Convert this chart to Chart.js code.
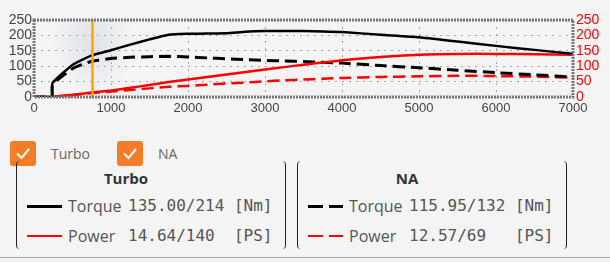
<!DOCTYPE html>
<html>
<head>
<meta charset="utf-8">
<script src="https://cdn.jsdelivr.net/npm/chart.js@4"></script>
<style>
  html, body { margin: 0; padding: 0; background: #f4f4f4; width: 610px; height: 262px; overflow: hidden; }
  #wrap { position: relative; width: 610px; height: 262px; }
  #chart { position: absolute; left: 0; top: 0; }
  .chk { position: absolute; top: 141px; width: 26px; height: 25px; border-radius: 3px; background: #f47c26; }
  .chk svg { position: absolute; left: 0; top: 0; }
  .chkLabel { position: absolute; top: 144px; font: 14px "Open Sans", sans-serif; color: #666; }
  .bracket { position: absolute; top: 161px; height: 88px; width: 6px; border: 0 solid #222; }
  .bl { border-left-width: 1.6px; border-radius: 4px 0 0 4px; }
  .br { border-right-width: 1.6px; border-radius: 0 4px 4px 0; }
  .head { position: absolute; top: 168px; width: 100px; text-align: center; font: bold 15px "Open Sans", sans-serif; color: #333; }
  .row { position: absolute; height: 20px; white-space: pre; color: #555; }
  .row .name { position: absolute; left: 0; top: 0; font: 16px "Open Sans", sans-serif; }
  .row .val { position: absolute; left: 60px; top: 1px; font: 16px "DejaVu Sans Mono", monospace; }
  .swatch { position: absolute; width: 35px; }
  #bottomLine { position: absolute; left: 0; top: 257px; width: 610px; height: 1px; background: #a5a5a5; }
</style>
</head>
<body>
<div id="wrap">
  <canvas id="chart" width="610" height="120"></canvas>
  <div id="legend"></div>
  <div id="bottomLine"></div>
</div>
<script>
// engine speed (rpm) shared by all curves
const rpm = [0, 230, 240, 500, 750, 1000, 1250, 1500, 1750, 2000, 2250, 2500, 2750,
             3000, 3250, 3500, 3750, 4000, 4500, 5000, 5500, 6000, 6500, 7000];

// Turbo
const turboTorque = [0, 0, 45, 104, 135, 152, 170, 187, 202, 205, 206, 207, 212,
                     214, 214, 214, 213, 211, 202, 194, 180, 166, 153, 140];
const turboPower  = [0, 0, 1, 7, 14.6, 21, 30, 39, 49, 57, 65, 73, 81,
                     89, 97, 105, 112, 119, 130, 137, 140, 140, 139, 137];

// NA
const naTorque = [0, 0, 40, 92, 116, 125, 129, 131, 132, 130, 127, 124, 121,
                  119, 117, 115, 113, 110, 102, 95, 87, 79, 72, 65];
const naPower  = [0, 0, 1, 6, 12.6, 18, 23, 28, 33, 36, 40, 44, 47,
                  51, 54, 57, 59, 62, 65, 67, 69, 68, 66, 63];

const yTicks = [0, 50, 100, 150, 200, 250];
const xTicks = [0, 1000, 2000, 3000, 4000, 5000, 6000, 7000];

// cursor position and read-outs
const cursorRpm = 760;
const groups = ['Turbo', 'NA'];
const torqueText = ['135.00/214 [Nm]', '115.95/132 [Nm]'];
const powerText  = ['14.64/140  [PS]', '12.57/69   [PS]'];

const BLACK = '#000000';
const RED = '#ff0000';

function pts(ys) {
  return rpm.map((x, i) => ({ x, y: ys[i] }));
}

function line(label, ys, color, width, dash, axis, order) {
  return {
    label,
    data: pts(ys),
    borderColor: color,
    backgroundColor: 'transparent',
    borderWidth: width,
    borderDash: dash,
    pointRadius: 0,
    tension: 0.15,
    yAxisID: axis,
    order,
  };
}

// glow + orange cursor + plot frame
const decor = {
  id: 'decor',
  beforeDatasetsDraw(chart) {
    const { ctx, chartArea: a, scales } = chart;
    const cx = scales.x.getPixelForValue(cursorRpm);
    ctx.save();
    ctx.beginPath();
    ctx.rect(a.left, a.top, a.right - a.left, a.bottom - a.top);
    ctx.clip();
    ctx.translate(cx, a.top + 22);
    ctx.scale(1, 1.3);
    const g = ctx.createRadialGradient(0, 0, 0, 0, 0, 40);
    g.addColorStop(0, 'rgba(175,192,208,0.32)');
    g.addColorStop(1, 'rgba(175,192,208,0)');
    ctx.fillStyle = g;
    ctx.fillRect(-60, -40, 120, 80);
    ctx.restore();
  },
  afterDatasetsDraw(chart) {
    const { ctx, chartArea: a, scales } = chart;
    const cx = scales.x.getPixelForValue(cursorRpm);
    ctx.save();
    ctx.strokeStyle = '#ffa500';
    ctx.lineWidth = 2.5;
    ctx.beginPath();
    ctx.moveTo(cx, a.top);
    ctx.lineTo(cx, a.bottom);
    ctx.stroke();
    ctx.strokeStyle = '#777';
    ctx.lineWidth = 3;
    ctx.setLineDash([2, 1]);
    ctx.strokeRect(a.left, a.top, a.right - a.left, a.bottom - a.top);
    ctx.restore();
  },
};

const tickCommon = { autoSkip: false, callback: (v) => String(v) };

new Chart(document.getElementById('chart'), {
  type: 'line',
  data: {
    datasets: [
      line('Turbo Torque', turboTorque, BLACK, 2.5, [], 'y', 1),
      line('NA Torque', naTorque, BLACK, 3, [12, 6], 'y', 3),
      line('Turbo Power', turboPower, RED, 2.5, [], 'y1', 2),
      line('NA Power', naPower, RED, 2.5, [12, 6], 'y1', 4),
    ],
  },
  options: {
    responsive: false,
    animation: false,
    layout: { padding: { top: 20, left: 0, right: 0, bottom: 0 } },
    plugins: { legend: { display: false }, tooltip: { enabled: false } },
    scales: {
      x: {
        type: 'linear', min: 0, max: 7000,
        afterBuildTicks: (s) => { s.ticks = xTicks.map((v) => ({ value: v })); },
        afterFit: (s) => { s.height = 23; },
        grid: { color: '#a6a6a6', drawTicks: false },
        border: { display: false, dash: [2, 5] },
        ticks: { ...tickCommon, color: '#444', font: { family: 'Liberation Sans', size: 13 }, padding: 4, maxRotation: 0 },
      },
      y: {
        position: 'left', min: 0, max: 250,
        afterBuildTicks: (s) => { s.ticks = yTicks.map((v) => ({ value: v })); },
        afterFit: (s) => { s.width = 34; },
        grid: { color: '#a6a6a6', drawTicks: false },
        border: { display: false, dash: [2, 5] },
        ticks: { ...tickCommon, color: '#444', font: { family: 'Liberation Sans', size: 14 }, padding: 2 },
      },
      y1: {
        position: 'right', min: 0, max: 250,
        afterBuildTicks: (s) => { s.ticks = yTicks.map((v) => ({ value: v })); },
        afterFit: (s) => { s.width = 37; },
        grid: { display: false, drawTicks: false },
        border: { display: false },
        ticks: { ...tickCommon, color: RED, font: { family: 'Liberation Sans', size: 14 }, padding: 3 },
      },
    },
  },
  plugins: [decor],
});

// legend below the chart
const legend = document.getElementById('legend');
const check = '<svg width="26" height="25"><polyline points="7,12.5 11.5,17 19,8" fill="none" stroke="#fff" stroke-width="2"/></svg>';
const chkX = [10, 117];
const lblX = [51, 158];
const boxL = [16, 297];
const boxR = [279, 560];

function swatch(x, y, color, h, dashed) {
  if (!dashed) {
    return `<div class="swatch" style="left:${x}px;top:${y - h / 2}px;height:${h}px;background:${color}"></div>`;
  }
  return `<div class="swatch" style="left:${x}px;top:${y - h / 2}px;height:${h}px;background:linear-gradient(90deg,${color} 0 15px,transparent 15px 21px,${color} 21px 35px)"></div>`;
}

let html = '';
groups.forEach((g, i) => {
  html += `<div class="chk" style="left:${chkX[i]}px">${check}</div>`;
  html += `<div class="chkLabel" style="left:${lblX[i]}px">${g}</div>`;
  html += `<div class="bracket bl" style="left:${boxL[i]}px"></div>`;
  html += `<div class="bracket br" style="left:${boxR[i]}px"></div>`;
  html += `<div class="head" style="left:${boxL[i] + 60}px">${g}</div>`;
  const sx = boxL[i] + 11;
  html += swatch(sx, 206, BLACK, 3, i === 1);
  html += swatch(sx, 236, RED, 2, i === 1);
  html += `<div class="row" style="left:${sx + 41}px;top:195px"><span class="name">Torque</span><span class="val">${torqueText[i]}</span></div>`;
  html += `<div class="row" style="left:${sx + 41}px;top:225px"><span class="name">Power</span><span class="val">${powerText[i]}</span></div>`;
});
legend.innerHTML = html;
</script>
</body>
</html>
